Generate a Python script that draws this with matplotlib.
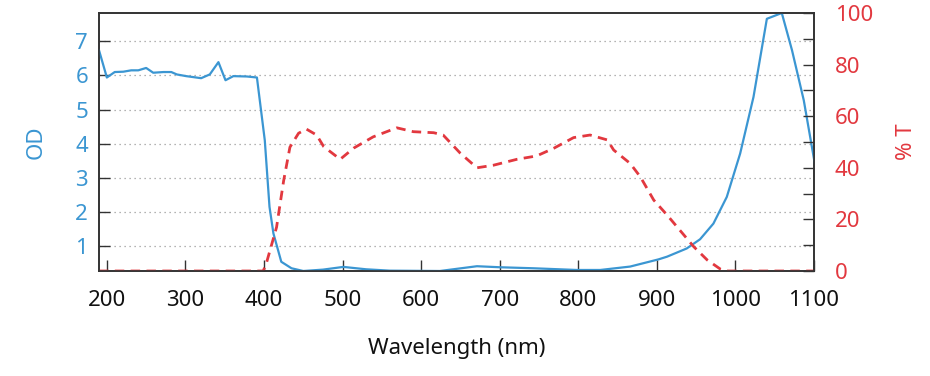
import matplotlib
matplotlib.use('Agg')
import matplotlib.pyplot as plt
from matplotlib.ticker import MultipleLocator

# OD curve (left axis)
od_nm = [190, 200, 210, 221, 231, 240, 250, 259, 272, 282, 289, 301, 320, 331, 342, 351, 361,
         378, 391, 401, 407, 412, 422, 435, 450, 475, 501, 530, 560, 624, 671, 700, 743,
         798, 828, 866, 902, 913, 938, 955, 972, 989, 1006, 1023, 1040, 1059, 1072, 1087, 1101]
od_val = [6.74, 5.94, 6.10, 6.11, 6.15, 6.15, 6.22, 6.08, 6.10, 6.10, 6.03, 5.98, 5.92, 6.03, 6.39, 5.86, 5.98,
          5.97, 5.94, 4.10, 2.15, 1.37, 0.54, 0.35, 0.27, 0.31, 0.39, 0.32, 0.28, 0.27, 0.41, 0.38, 0.35,
          0.30, 0.30, 0.40, 0.61, 0.69, 0.93, 1.20, 1.66, 2.44, 3.71, 5.37, 7.66, 7.83, 6.74, 5.27, 3.42]

# %T curve (right axis)
t_nm = [190, 399, 403, 416, 425, 433, 444, 454, 467, 476, 497, 514, 539, 569, 590, 616, 628,
        650, 671, 692, 722, 747, 769, 794, 815, 837, 845, 866, 879, 896, 913, 947, 964, 981, 989, 1100]
t_val = [0, 0, 3, 17, 35, 48, 53.4, 55, 52.7, 48.2, 43.3, 47.6, 52, 55.5, 54, 53.6, 52.7,
         45.6, 40, 41, 43.3, 44.6, 47.6, 51.7, 52.7, 50.8, 46.9, 41.7, 36.5, 27.5, 21.7, 9.4, 4.3, 0.7, 0, 0]

x_ticks = [200, 300, 400, 500, 600, 700, 800, 900, 1000, 1100]
od_ticks = [1, 2, 3, 4, 5, 6, 7]
t_ticks = [0, 20, 40, 60, 80, 100]

blue = '#3b96d2'
red = '#e2383f'
spine = '#333333'

plt.rcParams['font.family'] = ['Noto Sans', 'DejaVu Sans']
plt.rcParams['font.size'] = 16

fig = plt.figure(figsize=(9.3, 3.76), dpi=100)
ax1 = fig.add_axes([99 / 930, 105 / 376, 715 / 930, 258 / 376])
ax2 = ax1.twinx()

ax1.plot(od_nm, od_val, color=blue, lw=1.6, zorder=3)
ax2.plot(t_nm, t_val, color=red, lw=2.0, dashes=(3.4, 2.3))

ax1.set_xlim(190, 1100)
ax1.set_ylim(0.27, 7.83)
ax2.set_ylim(0, 100)

ax1.set_xticks(x_ticks)
ax1.set_yticks(od_ticks)
ax2.set_yticks(t_ticks)
ax2.yaxis.set_minor_locator(MultipleLocator(10))

ax1.grid(axis='y', color='#9a9a9a', lw=0.9, linestyle=(0, (1, 3)))

ax1.tick_params(axis='x', direction='in', length=8, width=1, colors=spine,
                labelcolor='#111111', pad=14)
ax1.tick_params(axis='y', direction='in', length=8, width=1, colors=spine,
                labelcolor=blue, pad=8)
ax2.tick_params(axis='y', which='both', direction='in', length=8, width=1, colors=spine,
                labelcolor=red, pad=15)

for ax in (ax1, ax2):
    for s in ax.spines.values():
        s.set_color(spine)
        s.set_linewidth(1.2)

ax1.set_xlabel('Wavelength (nm)', color='#111111')
ax1.xaxis.label.set_va('center')
ax1.xaxis.set_label_coords(0.5, -0.30)
ax1.set_ylabel('OD', color=blue)
ax1.yaxis.label.set_va('center')
ax1.yaxis.set_label_coords(-0.088, 0.5)
ax2.set_ylabel('% T', color=red, rotation=90)
ax2.yaxis.label.set_va('center')
ax2.yaxis.set_label_coords(1.13, 0.5)

fig.savefig('out.png', dpi=100)
